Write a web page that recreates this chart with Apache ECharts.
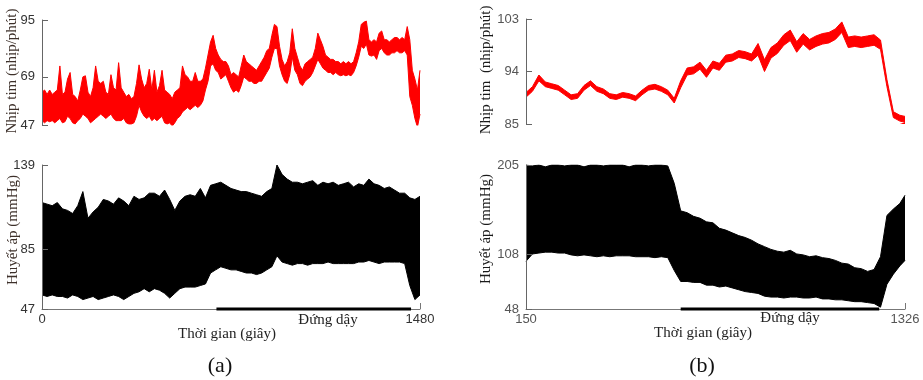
<!DOCTYPE html>
<html>
<head>
<meta charset="utf-8">
<script src="https://cdn.jsdelivr.net/npm/echarts@6/dist/echarts.min.js"></script>
<style>
    html, body { margin: 0; background: #fff; }
    #chart { width: 923px; height: 380px; }
</style>
</head>
<body>
<div id="chart"></div>
<script>
// ---- (a) heart rate, envelopes read every 10 s ----
const timeHrA = [0, 10, 20, 30, 40, 50, 60, 70, 80, 90, 100, 110, 120, 130, 140, 150, 160, 170, 180, 190,
    200, 210, 220, 230, 240, 250, 260, 270, 280, 290, 300, 310, 320, 330, 340, 350, 360, 370, 380, 390,
    400, 410, 420, 430, 440, 450, 460, 470, 480, 490, 500, 510, 520, 530, 540, 550, 560, 570, 580, 590,
    600, 610, 620, 630, 640, 650, 660, 670, 680, 690, 700, 710, 720, 730, 740, 750, 760, 770, 780, 790,
    800, 810, 820, 830, 840, 850, 860, 870, 880, 890, 900, 910, 920, 930, 940, 950, 960, 970, 980, 990,
    1000, 1010, 1020, 1030, 1040, 1050, 1060, 1070, 1080, 1090, 1100, 1110, 1120, 1130, 1140, 1150, 1160, 1170, 1180, 1190,
    1200, 1210, 1220, 1230, 1240, 1250, 1260, 1270, 1280, 1290, 1300, 1310, 1320, 1330, 1340, 1350, 1360, 1370, 1380, 1390,
    1400, 1410, 1420, 1430, 1440, 1450, 1460, 1470, 1480];

const hrALow = [49, 48, 49, 48.5, 49, 48, 49, 50, 48, 48.5, 51, 50, 48, 47.5, 49, 50, 52, 51, 50, 48,
    49, 50, 51, 52, 51, 50, 51, 52, 50, 49, 49, 49, 50, 48, 47.5, 47.5, 48, 51, 56, 53,
    51, 50, 51, 49, 50, 49, 50, 51, 48, 47.5, 48, 46.5, 48, 50, 51, 53, 54, 55, 54, 55,
    56, 55, 56, 58, 63, 67, 74, 75, 72, 71, 68, 69, 70, 67, 64, 62, 63, 62, 65, 69,
    68, 67, 67, 66, 66, 67, 67, 69, 71, 73, 78, 82, 82, 74, 70, 67, 66, 70, 78, 72,
    70, 66, 65, 67, 68, 69, 71, 74, 77, 75, 73, 72, 71, 71, 70, 71, 70, 69.5, 70, 69.5,
    70, 69.5, 71, 74, 78, 83, 82, 84, 79, 78.5, 79, 77, 81, 82, 80, 79, 79, 80, 80, 81,
    80, 80, 81, 79, 60, 56, 50, 46, 52];
const hrAHigh = [62, 63, 61, 63, 61, 62, 63, 74, 61, 62, 68, 71, 61, 60, 58, 63, 69, 69.5, 62, 60,
    64, 74, 67, 66, 67, 62, 61, 70, 64, 63, 75.5, 64, 62, 60, 61, 59, 60, 66, 74.5, 68,
    64, 66, 72.5, 63, 72, 62, 65, 72, 63, 62, 61, 59, 62, 63, 64, 74, 70, 69, 67, 67,
    71, 67, 67, 68, 73, 79, 85, 88, 82, 79, 77, 76, 76, 74, 70, 71, 70, 69, 74, 79,
    76, 75, 74, 73, 72, 74, 76, 78, 81, 82, 88, 93, 92, 83, 77, 74, 76, 80, 91, 82,
    78, 74, 72, 75, 76, 77, 78, 82, 89, 86, 83, 79, 78, 77, 77, 76, 76, 75, 76, 75,
    76, 75, 76, 80, 85, 93, 94, 94.5, 86, 85, 86, 85, 89, 90, 86, 86, 85, 86, 87, 87,
    86, 87, 86, 92, 86, 72, 68, 63, 72];

// ---- (a) blood pressure, envelopes read every 20 s ----
const timeBpA = [0, 20, 40, 60, 80, 100, 120, 140, 160, 180, 200, 220, 240, 260, 280, 300, 320, 340, 360, 380,
    400, 420, 440, 460, 480, 500, 520, 540, 560, 580, 600, 620, 640, 660, 680, 700, 720, 740, 760, 780,
    800, 820, 840, 860, 880, 900, 920, 940, 960, 980, 1000, 1020, 1040, 1060, 1080, 1100, 1120, 1140, 1160, 1180,
    1200, 1220, 1240, 1260, 1280, 1300, 1320, 1340, 1360, 1380, 1400, 1420, 1440, 1460, 1480];

const bpALow = [56, 55, 56, 55, 55, 54, 56, 55, 53, 54, 55, 53, 54, 55, 56, 55, 53, 55, 57, 58,
    60, 58, 60, 59, 57, 54, 57, 60, 61, 61, 61, 62, 63, 70, 72, 74, 73, 72, 72, 71,
    70, 70, 69, 70, 72, 74, 81, 77, 76, 75, 76, 76, 75, 76, 76, 76, 77, 76, 76, 76,
    76, 76, 77, 77, 78, 77, 76, 77, 77, 77, 77, 76, 62, 53, 56];
const bpAHigh = [115, 114, 113, 115, 111, 110, 108, 113, 122, 105, 109, 112, 117, 116, 114, 118, 116, 113, 119, 117,
    118, 121, 121, 119, 123, 117, 110, 116, 119, 120, 119, 124, 118, 126, 127, 128, 126, 124, 123, 122,
    122, 121, 120, 119, 122, 124, 139, 133, 130, 128, 128, 127, 128, 129, 126, 128, 127, 128, 126, 127,
    128, 125, 127, 126, 130, 127, 126, 124, 125, 123, 121, 121, 118, 117, 119];

const standA = [683, 1445];
const ticksA = { hr: [47, 69, 95], bp: [47, 85, 139], time: [0, 1480] };

// ---- (b) sampled every 20 s from 150 s ----
const timeB = [150, 170, 190, 210, 230, 250, 270, 290, 310, 330, 350, 370, 390, 410, 430, 450, 470, 490, 510, 530,
    550, 570, 590, 610, 630, 650, 670, 690, 710, 730, 750, 770, 790, 810, 830, 850, 870, 890, 910, 930,
    950, 970, 990, 1010, 1030, 1050, 1070, 1090, 1110, 1130, 1150, 1170, 1190, 1210, 1230, 1250, 1270, 1290, 1310, 1326];

const hrBLow = [89.6, 90.6, 92.4, 91.4, 91.1, 90.8, 90.0, 89.2, 89.4, 90.8, 91.6, 90.6, 90.2, 89.4, 89.2, 89.6, 89.4, 89.0, 90.0, 90.8,
    91.0, 90.6, 90.0, 88.6, 91.2, 93.4, 93.6, 94.4, 93.0, 94.6, 94.2, 95.6, 95.8, 96.4, 96.2, 95.8, 96.8, 94.0, 96.3, 97.1,
    98.5, 99.3, 97.3, 98.7, 97.7, 98.3, 98.7, 98.9, 99.5, 100.7, 98.1, 98.3, 98.1, 98.3, 98.5, 97.8, 91.4, 86.1, 85.5, 85.3];
const hrBHigh = [90.4, 91.4, 93.4, 92.2, 91.9, 91.6, 90.8, 90.0, 90.2, 91.6, 92.4, 91.4, 91.0, 90.2, 90.0, 90.4, 90.2, 89.8, 90.8, 91.6,
    91.8, 91.4, 90.8, 89.4, 92.4, 94.6, 94.8, 95.6, 94.2, 95.8, 95.4, 96.8, 97.0, 97.6, 97.4, 97.0, 98.8, 96.0, 98.1, 98.9,
    100.3, 101.1, 99.1, 100.5, 99.5, 100.1, 100.5, 100.7, 101.3, 102.5, 99.9, 100.1, 99.9, 100.1, 100.3, 99.4, 92.6, 87.1, 86.5, 86.3];

const bpBLow = [100, 108, 109, 110, 110, 109, 109, 107, 106, 107, 106, 105, 106, 105, 106, 106, 106, 105, 105, 105,
    104, 105, 104, 90, 78, 78, 77, 77, 74, 74, 72, 73, 71, 69, 67, 66, 65, 62, 61, 61,
    60, 61, 61, 60, 60, 61, 59, 59, 58, 58, 57, 56, 56, 55, 54, 50, 75, 86, 95, 101];
const bpBHigh = [205, 204, 205, 203, 205, 205, 204, 205, 205, 203, 205, 205, 204, 205, 205, 205, 203, 205, 205, 204,
    205, 205, 204, 185, 155, 153, 149, 147, 143, 142, 136, 134, 131, 128, 126, 123, 119, 116, 113, 111,
    110, 112, 108, 107, 105, 106, 104, 103, 101, 98, 97, 93, 92, 89, 91, 105, 150, 157, 163, 172];

const standB = [630, 1246];
const ticksB = { hr: [85, 94, 103], bp: [48, 108, 205], time: [150, 1326] };

const SERIF = '"Liberation Serif", "Times New Roman", serif';
const SANS = '"Liberation Sans", Arial, sans-serif';

const grids = [
    { left: 42, top: 20, width: 378, height: 105 },
    { left: 42, top: 165, width: 378, height: 144 },
    { left: 526, top: 19, width: 379, height: 105 },
    { left: 526, top: 165, width: 379, height: 144 }
];

const plain = v => String(v);

function yAxis(idx, ticks, labelColor) {
    return {
        type: 'value', gridIndex: idx, z: 5,
        min: ticks[0], max: ticks[ticks.length - 1],
        splitLine: { show: false },
        axisLine: { show: true, lineStyle: { color: '#666', width: 1 } },
        axisTick: { show: true, inside: true, length: 6, customValues: ticks, lineStyle: { color: '#666' } },
        axisLabel: { customValues: ticks, formatter: plain, color: labelColor, fontFamily: SANS, fontSize: 13, margin: 7 }
    };
}

function xAxis(idx, ticks, visible, labelColor) {
    return {
        type: 'value', gridIndex: idx, z: 5,
        min: ticks[0], max: ticks[1],
        show: visible,
        splitLine: { show: false },
        axisLine: { show: true, lineStyle: { color: '#777', width: 1 } },
        axisTick: { show: true, inside: true, length: 6, customValues: [ticks[1]], lineStyle: { color: '#777' } },
        axisLabel: { customValues: ticks, formatter: plain, color: labelColor, fontFamily: SANS, fontSize: 13, margin: 4 }
    };
}

// band between two envelopes: upper filled down to the axis, lower masked in white
function band(idx, time, low, high, color) {
    return [
        {
            type: 'line', xAxisIndex: idx, yAxisIndex: idx,
            data: time.map((t, k) => [t, high[k]]), symbol: 'none', silent: true,
            lineStyle: { width: 1, color: color },
            areaStyle: { color: color, opacity: 1, origin: 'start' }
        },
        {
            type: 'line', xAxisIndex: idx, yAxisIndex: idx,
            data: time.map((t, k) => [t, low[k]]), symbol: 'none', silent: true,
            lineStyle: { width: 1, color: color },
            areaStyle: { color: '#ffffff', opacity: 1, origin: 'start' }
        }
    ];
}

function standing(idx, span, yMin) {
    return {
        type: 'line', xAxisIndex: idx, yAxisIndex: idx, clip: false, z: 6,
        data: [[span[0], yMin], [span[1], yMin]], symbol: 'none', silent: true,
        lineStyle: { width: 3, color: '#000' }
    };
}

function text(x, y, str, size, color, rotate) {
    return {
        type: 'text', x: x, y: y, rotation: rotate ? Math.PI / 2 : 0,
        style: { text: str, font: size + 'px ' + SERIF, fill: color, align: 'center', verticalAlign: 'middle' }
    };
}

const chart = echarts.init(document.getElementById('chart'));

chart.setOption({
    animation: false,
    backgroundColor: '#fff',
    grid: grids,
    xAxis: [
        xAxis(0, ticksA.time, false, '#333'),
        xAxis(1, ticksA.time, true, '#333'),
        xAxis(2, ticksB.time, false, '#555'),
        xAxis(3, ticksB.time, true, '#555')
    ],
    yAxis: [
        yAxis(0, ticksA.hr, '#333'),
        yAxis(1, ticksA.bp, '#333'),
        yAxis(2, ticksB.hr, '#555'),
        yAxis(3, ticksB.bp, '#555')
    ],
    series: [
        ...band(0, timeHrA, hrALow, hrAHigh, '#ff0000'),
        ...band(1, timeBpA, bpALow, bpAHigh, '#000000'),
        ...band(2, timeB, hrBLow, hrBHigh, '#ff0000'),
        ...band(3, timeB, bpBLow, bpBHigh, '#000000'),
        standing(1, standA, ticksA.bp[0]),
        standing(3, standB, ticksB.bp[0])
    ],
    graphic: [
        text(12, 71, 'Nhịp tim (nhịp/phút)', 15, '#3d302a', true),
        text(13, 230, 'Huyết áp (mmHg)', 15, '#3d302a', true),
        text(486, 70, 'Nhịp tim  (nhịp/phút)', 15, '#1a1a1a', true),
        text(486, 229, 'Huyết áp (mmHg)', 15, '#1a1a1a', true),
        text(328, 320, 'Đứng dậy', 15, '#222'),
        text(227, 334, 'Thời gian (giây)', 15, '#222'),
        text(790, 318, 'Đứng dậy', 15, '#222'),
        text(703, 333, 'Thời gian (giây)', 15, '#222'),
        text(220, 366, '(a)', 22, '#111'),
        text(702, 366, '(b)', 22, '#111')
    ]
});
</script>
</body>
</html>
